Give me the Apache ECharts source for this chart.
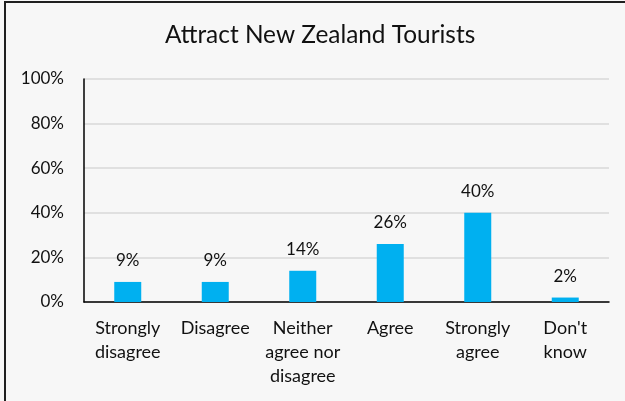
<!DOCTYPE html>
<html>
<head>
<meta charset="utf-8">
<script src="https://cdn.jsdelivr.net/npm/echarts@6/dist/echarts.min.js"></script>
<style>
  html, body { margin: 0; padding: 0; background: #F7F7F7; }
  #chart { width: 625px; height: 401px; }
</style>
</head>
<body>
<div id="chart"></div>
<script>
// Survey responses (percent of respondents)
const titleText = 'Attract New Zealand Tourists';
const categories = ['Strongly\ndisagree', 'Disagree', 'Neither\nagree nor\ndisagree', 'Agree', 'Strongly\nagree', "Don't\nknow"];
const values = [9, 9, 14, 26, 40, 2];
const yTicks = { min: 0, max: 100, step: 20 };

const FONT = 'Lato';
const TEXT = '#111111';

const chart = echarts.init(document.getElementById('chart'), null, { renderer: 'canvas' });
chart.setOption({
  backgroundColor: '#F7F7F7',
  animation: false,
  title: {
    text: titleText,
    left: 160,
    top: 18,
    textStyle: { fontFamily: FONT, fontSize: 24.4, fontWeight: 'normal', color: TEXT }
  },
  grid: { left: 84, right: 16, top: 79, bottom: 99, containLabel: false },
  xAxis: {
    type: 'category',
    data: categories,
    axisLine: { show: true, lineStyle: { color: '#000', width: 1.5 } },
    axisTick: { show: false },
    axisLabel: {
      interval: 0,
      margin: 14,
      fontFamily: FONT, fontSize: 18, lineHeight: 24, color: TEXT
    }
  },
  yAxis: {
    type: 'value',
    min: yTicks.min, max: yTicks.max, interval: yTicks.step,
    axisLine: { show: true, lineStyle: { color: '#000', width: 1.5 } },
    axisTick: { show: false },
    splitLine: { show: true, lineStyle: { color: '#D9D9D9', width: 1.5 } },
    axisLabel: {
      margin: 20,
      formatter: '{value}%',
      fontFamily: FONT, fontSize: 17, color: TEXT
    }
  },
  series: [{
    type: 'bar',
    data: values,
    barWidth: 27,
    itemStyle: { color: '#00B0F0' },
    label: {
      show: true,
      position: 'top',
      distance: 13,
      formatter: '{c}%',
      fontFamily: FONT, fontSize: 17, color: TEXT
    }
  }],
  graphic: [{
    type: 'rect',
    shape: { x: 5, y: 2, width: 700, height: 500 },
    style: { fill: 'none', stroke: '#1f1f1f', lineWidth: 2 },
    silent: true
  }]
});
</script>
</body>
</html>
